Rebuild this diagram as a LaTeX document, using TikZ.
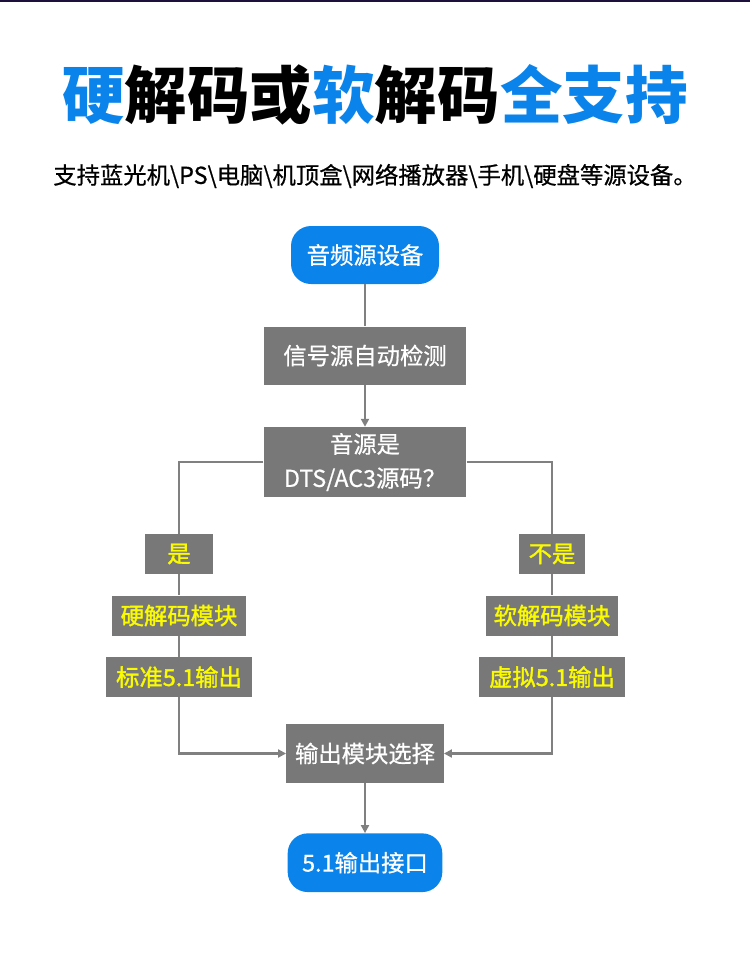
\documentclass[tikz,border=0pt]{standalone}
\usepackage{fontspec}
\usepackage{xcolor}
\usepackage{tikz}
\usetikzlibrary{arrows.meta, positioning}
\newfontfamily\cjk{Noto Sans CJK SC}
\newfontfamily\cjkmed{Noto Sans CJK SC}[FakeBold=0.6]
\newfontfamily\cjktag{Noto Sans CJK SC}[FakeBold=1.5]
\definecolor{titleblue}{RGB}{10, 132, 234}
\definecolor{boxgray}{RGB}{120, 120, 120}
\definecolor{linegray}{RGB}{128, 128, 128}
\definecolor{tagyellow}{RGB}{250, 250, 0}
\definecolor{topbar}{RGB}{30, 16, 60}

\begin{document}
\begin{tikzpicture}[
    x=0.75pt, y=-0.75pt,
    terminal/.style={rectangle, rounded corners=15pt, fill=titleblue, text=white, minimum width=111pt, minimum height=43.5pt, inner sep=0pt, font=\cjkmed\fontsize{17.5}{21}\selectfont},
    process/.style={rectangle, fill=boxgray, text=white, minimum width=152pt, minimum height=43.5pt, inner sep=0pt, align=center, font=\cjkmed\fontsize{17.5}{25.5}\selectfont},
    tag/.style={rectangle, fill=boxgray, text=tagyellow, minimum height=30pt, inner sep=0pt, font=\cjktag\fontsize{17.5}{21}\selectfont},
    link/.style={line width=2.1pt, draw=linegray},
    arrow/.style={link, -{Triangle[length=6pt, width=6pt]}}
]
    \useasboundingbox (0,0) rectangle (750,972);
    \fill[topbar] (0,0) rectangle (750,2);

    % heading
    \node[font=\cjk\bfseries\fontsize{46.9}{50}\selectfont] (title) at (375,95)
        {\textcolor{titleblue}{硬}解码或\textcolor{titleblue}{软}解码\textcolor{titleblue}{全支持}};
    \node[font=\cjkmed\fontsize{17.5}{21}\selectfont] (subtitle) at (375,176)
        {支持蓝光机\textbackslash PS\textbackslash 电脑\textbackslash 机顶盒\textbackslash 网络播放器\textbackslash 手机\textbackslash 硬盘等源设备。};

    % main column
    \node[terminal] (source) at (365,255) {音频源设备};
    \node[process, below=31.5pt of source] (detect) {信号源自动检测};
    \node[process, minimum height=52.5pt, below=31.5pt of detect] (check) {音源是\\DTS/AC3源码？};
    \node[process, minimum width=118pt, minimum height=44pt] (select) at (365,753.5) {输出模块选择};
    \node[terminal, minimum width=116pt, minimum height=44pt, below=37.5pt of select] (port) {5.1输出接口};

    % yes branch
    \node[tag, minimum width=51pt] (yes) at (179,554) {是};
    \node[tag, minimum width=100pt, below=15.75pt of yes] (hard) {硬解码模块};
    \node[tag, minimum width=109pt, below=15.75pt of hard] (std) {标准5.1输出};

    % no branch
    \node[tag, minimum width=50pt] (no) at (552,554) {不是};
    \node[tag, minimum width=99pt, below=15.75pt of no] (soft) {软解码模块};
    \node[tag, minimum width=110pt, below=15.75pt of soft] (virt) {虚拟5.1输出};

    \draw[link] (source) -- (detect);
    \draw[arrow] (detect) -- (check);
    \draw[link] (check.west) -| (yes);
    \draw[link] (check.east) -| (no);
    \draw[link] (yes) -- (hard);
    \draw[link] (hard) -- (std);
    \draw[link] (no) -- (soft);
    \draw[link] (soft) -- (virt);
    \draw[arrow] (std) |- (select);
    \draw[arrow] (virt) |- (select);
    \draw[arrow] (select) -- (port);
\end{tikzpicture}
\end{document}
